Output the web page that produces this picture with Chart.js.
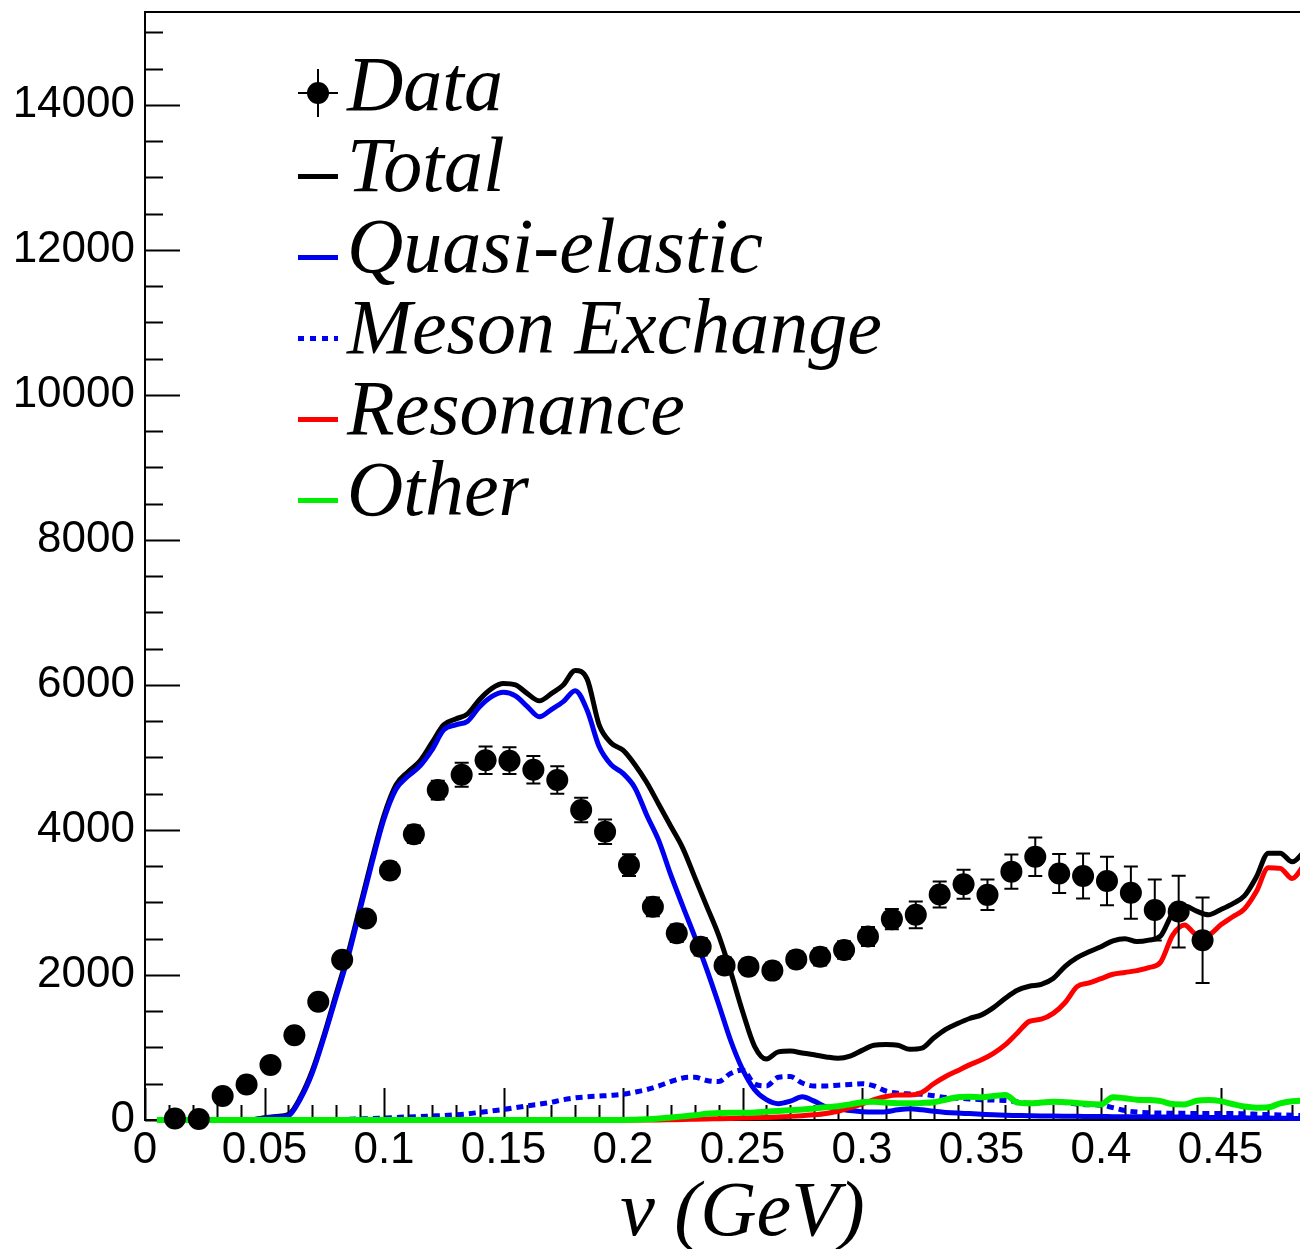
<!DOCTYPE html>
<html><head><meta charset="utf-8">
<script src="https://cdn.jsdelivr.net/npm/chart.js@4.4.1/dist/chart.umd.min.js"></script>
<style>
html,body{margin:0;padding:0;background:#fff;overflow:hidden;width:1300px;height:1249px;}
#wrap{position:relative;width:1300px;height:1249px;overflow:hidden;background:#fff;}
#c{position:absolute;left:0;top:0;width:1400px;height:1300px;}
.legtxt{position:absolute;font-family:"Liberation Serif","Times New Roman",serif;font-style:italic;font-size:78px;line-height:78px;white-space:nowrap;color:#000;}
.sym{position:absolute;}
</style></head>
<body><div id="wrap"><canvas id="c" width="1400" height="1300"></canvas><div id="legend"></div></div>
<script>
// ---- data ----
const dataX = [0.0125,0.0225,0.0325,0.0425,0.0525,0.0625,0.0725,0.0825,0.0925,0.1025,
  0.1125,0.1225,0.1325,0.1425,0.1525,0.1625,0.1725,0.1825,0.1925,0.2025,
  0.2125,0.2225,0.2325,0.2425,0.2525,0.2625,0.2725,0.2825,0.2925,0.3025,
  0.3125,0.3225,0.3325,0.3425,0.3525,0.3625,0.3725,0.3825,0.3925,0.4025,
  0.4125,0.4225,0.4325,0.4425];
const dataY = [20,15,330,490,760,1170,1630,2210,2780,3440,
  3940,4550,4760,4960,4955,4830,4690,4275,3975,3515,
  2940,2575,2390,2130,2115,2060,2215,2250,2345,2530,
  2770,2830,3110,3250,3105,3425,3630,3400,3365,3295,
  3135,2895,2875,2480];
const dataErr = [20,20,40,50,60,70,80,90,100,110,
  120,130,165,190,185,190,190,170,170,150,
  130,120,120,110,110,110,110,120,120,130,
  140,184,180,200,210,235,265,270,310,335,
  360,420,495,590];

const modelX = [0.005,0.01,0.015,0.02,0.025,0.03,0.035,0.04,0.045,0.05,
  0.055,0.06,0.065,0.07,0.075,0.08,0.085,0.09,0.095,0.1,
  0.105,0.11,0.115,0.12,0.125,0.13,0.135,0.14,0.145,0.15,
  0.155,0.16,0.165,0.17,0.175,0.18,0.185,0.19,0.195,0.2,
  0.205,0.21,0.215,0.22,0.225,0.23,0.235,0.24,0.245,0.25,
  0.255,0.26,0.265,0.27,0.275,0.28,0.285,0.29,0.295,0.3,
  0.305,0.31,0.315,0.32,0.325,0.33,0.335,0.34,0.345,0.35,
  0.355,0.36,0.365,0.37,0.375,0.38,0.385,0.39,0.395,0.4,
  0.405,0.41,0.415,0.42,0.425,0.43,0.435,0.44,0.445,0.45,
  0.455,0.46,0.465,0.47,0.475,0.48,0.485];

const totalY = [0,0,0,0,0,0,0,0,5,30,
  50,75,310,680,1180,1740,2300,2950,3600,4200,
  4620,4800,4950,5200,5450,5530,5600,5800,5950,6020,
  6000,5880,5780,5880,6000,6200,6080,5450,5200,5100,
  4900,4650,4350,4050,3750,3350,2950,2550,2050,1500,
  1020,840,940,950,925,900,870,850,880,960,
  1030,1040,1030,975,990,1130,1250,1330,1400,1450,
  1550,1680,1790,1845,1870,1950,2120,2240,2320,2390,
  2470,2500,2460,2480,2540,2850,2950,2880,2830,2900,
  2980,3090,3350,3680,3680,3560,3700];
const quasiElasticY = [0,0,0,0,0,0,0,0,5,25,
  40,60,290,650,1150,1700,2250,2900,3550,4150,
  4560,4740,4880,5100,5380,5450,5500,5700,5840,5900,
  5850,5700,5560,5660,5770,5920,5650,5150,4900,4780,
  4580,4200,3850,3380,2950,2530,2080,1600,1100,700,
  420,280,225,260,320,260,180,160,130,115,
  110,115,140,155,140,120,105,95,88,80,
  72,66,62,58,55,54,52,50,49,48,
  46,45,44,43,42,41,40,38,36,34,
  32,30,28,26,24,22,20];
const mesonExchangeY = [0,0,0,0,0,0,0,0,0,0,
  0,0,0,0,0,5,10,15,20,28,
  35,42,48,55,62,72,85,105,125,145,
  170,195,220,245,280,305,320,330,340,355,
  385,420,470,530,580,590,545,530,640,690,
  500,470,590,600,510,470,470,480,490,500,
  470,400,370,360,355,335,310,300,290,280,
  275,270,250,230,240,250,240,220,210,205,
  170,130,110,100,95,92,92,90,88,90,
  90,85,80,75,70,65,62];
const resonanceY = [0,0,0,0,0,0,0,0,0,0,
  0,0,0,0,0,0,0,0,0,0,
  0,0,0,0,0,0,0,0,0,0,
  0,0,0,0,0,0,0,0,0,0,
  0,0,0,3,6,10,14,18,22,26,
  30,35,42,50,60,72,90,120,170,220,
  280,325,345,345,380,500,600,680,760,830,
  920,1040,1200,1360,1390,1470,1620,1840,1890,1950,
  2010,2035,2060,2100,2180,2550,2690,2560,2560,2690,
  2800,2910,3150,3480,3470,3330,3520];
const otherY = [0,0,0,0,0,0,0,0,0,0,
  0,0,0,0,0,0,0,0,0,0,
  0,0,0,0,0,0,0,0,0,0,
  0,0,0,0,0,0,0,0,0,0,
  5,10,20,35,50,65,85,95,100,100,
  105,115,125,135,145,160,175,190,215,245,
  250,240,232,230,235,245,280,315,320,315,
  330,345,240,230,240,250,245,235,220,215,
  315,300,280,275,260,220,215,265,275,260,
  220,185,170,175,230,260,265];

// axis definitions
const xMin = 0, xMax = 0.5, xMajorStep = 0.05, xMinorStep = 0.01;
const xTickValues = [0,0.05,0.1,0.15,0.2,0.25,0.3,0.35,0.4,0.45,0.5];
const yMin = 0, yMax = 15280, yMajorStep = 2000, yMinorStep = 500;
const yTickValues = [0,2000,4000,6000,8000,10000,12000,14000];
const xTitle = 'ν (GeV)';

const BLUE = '#0000f0', RED = '#ff0000', GREEN = '#00ee00', BLACK = '#000000';

const legendItems = [
  {label: 'Data', kind: 'data', color: BLACK},
  {label: 'Total', kind: 'line', color: BLACK},
  {label: 'Quasi-elastic', kind: 'line', color: BLUE},
  {label: 'Meson Exchange', kind: 'dash', color: BLUE},
  {label: 'Resonance', kind: 'line', color: RED},
  {label: 'Other', kind: 'line', color: GREEN}
];

function pts(xs, ys) { return xs.map((x, i) => ({x: x, y: ys[i]})); }
function fmtX(v) { const r = Math.round(v * 1000) / 1000; return String(r); }

// ---- plugins ----
const rootAxes = {
  id: 'rootAxes',
  beforeDatasetsDraw(chart) {
    const {ctx, chartArea: a, scales: {x, y}} = chart;
    ctx.save();
    ctx.strokeStyle = '#000';
    ctx.lineWidth = 2;
    ctx.strokeRect(a.left, a.top, a.right - a.left, a.bottom - a.top);
    ctx.beginPath();
    const nY = Math.floor((yMax - yMin) / yMinorStep + 1e-9);
    for (let i = 0; i <= nY; i++) {
      const v = yMin + i * yMinorStep;
      const p = Math.round(y.getPixelForValue(v)) + 0.5;
      const len = (Math.abs(v % yMajorStep) < 1e-6) ? 35 : 18;
      ctx.moveTo(a.left, p); ctx.lineTo(a.left + len, p);
    }
    const nX = Math.round((xMax - xMin) / xMinorStep);
    const per = Math.round(xMajorStep / xMinorStep);
    for (let i = 0; i <= nX; i++) {
      const v = xMin + i * xMinorStep;
      const p = Math.round(x.getPixelForValue(v)) + 0.5;
      const len = (i % per === 0) ? 32 : 15;
      ctx.moveTo(p, a.bottom); ctx.lineTo(p, a.bottom - len);
    }
    ctx.stroke();
    ctx.restore();
  }
};

const errorBars = {
  id: 'errorBars',
  afterDatasetsDraw(chart) {
    const {ctx, scales: {x, y}} = chart;
    ctx.save();
    ctx.strokeStyle = '#000';
    ctx.lineWidth = 2;
    ctx.beginPath();
    dataX.forEach((v, i) => {
      const px = x.getPixelForValue(v);
      const y1 = y.getPixelForValue(dataY[i] + dataErr[i]);
      const y2 = y.getPixelForValue(Math.max(0, dataY[i] - dataErr[i]));
      ctx.moveTo(px, y1); ctx.lineTo(px, y2);
      ctx.moveTo(px - 7, y1); ctx.lineTo(px + 7, y1);
      ctx.moveTo(px - 7, y2); ctx.lineTo(px + 7, y2);
    });
    ctx.stroke();
    ctx.restore();
  }
};

function lineDs(label, ys, color, order, width, dash) {
  return {
    type: 'line', label: label, data: pts(modelX, ys),
    borderColor: color, backgroundColor: color, borderWidth: width,
    borderDash: dash || [], pointRadius: 0, fill: false, tension: 0,
    cubicInterpolationMode: 'monotone', order: order, clip: 8
  };
}

new Chart(document.getElementById('c'), {
  type: 'line',
  data: {
    datasets: [
      {type: 'scatter', label: 'Data', data: pts(dataX, dataY), showLine: false,
       pointRadius: 11, pointHoverRadius: 11, pointBackgroundColor: BLACK, pointBorderWidth: 0,
       pointBorderColor: BLACK, order: 0, clip: false},
      lineDs('Other', otherY, GREEN, 1, 6),
      lineDs('Resonance', resonanceY, RED, 2, 5),
      lineDs('Meson Exchange', mesonExchangeY, BLUE, 3, 5, [7, 5]),
      lineDs('Quasi-elastic', quasiElasticY, BLUE, 4, 5),
      lineDs('Total', totalY, BLACK, 5, 5)
    ]
  },
  options: {
    responsive: false, animation: false, devicePixelRatio: 1,
    layout: {padding: {top: 12, right: 60, left: 0, bottom: 0}},
    plugins: {legend: {display: false}, tooltip: {enabled: false}},
    scales: {
      x: {
        type: 'linear', min: xMin, max: xMax,
        grid: {display: false, drawTicks: false}, border: {display: false},
        ticks: {padding: 4, color: '#000', maxRotation: 0, autoSkip: false,
                font: {family: 'Liberation Sans', size: 44},
                callback: v => fmtX(v)},
        afterBuildTicks: s => { s.ticks = xTickValues.map(v => ({value: v})); },
        title: {display: true, text: xTitle, color: '#000',
                font: {family: 'Liberation Serif', style: 'italic', size: 78, lineHeight: 1.2},
                padding: {top: 0, bottom: 39}},
        afterFit: s => { s.height = 180; s.paddingLeft = 0; s.paddingRight = 0; }
      },
      y: {
        type: 'linear', min: yMin, max: yMax,
        grid: {display: false, drawTicks: false}, border: {display: false},
        ticks: {padding: 10, color: '#000', autoSkip: false,
                font: {family: 'Liberation Sans', size: 44}, callback: v => String(v)},
        afterBuildTicks: s => { s.ticks = yTickValues.map(v => ({value: v})); },
        afterFit: s => { s.width = 145; s.paddingTop = 0; s.paddingBottom = 0; }
      }
    }
  },
  plugins: [rootAxes, errorBars]
});

// ---- legend (HTML) ----
const legTop = 110, legStep = 81, symLeft = 298, symW = 40, txtLeft = 347;
const leg = document.getElementById('legend');
legendItems.forEach((it, i) => {
  const base = legTop + i * legStep;
  const t = document.createElement('div');
  t.className = 'legtxt';
  t.style.left = txtLeft + 'px';
  t.style.top = (base - 65) + 'px';
  t.textContent = it.label;
  leg.appendChild(t);
  const cy = base - 15;
  if (it.kind === 'data') {
    const mcy = base - 17;
    const h = document.createElement('div'); h.className = 'sym';
    h.style.cssText += `left:${symLeft}px;top:${mcy - 1}px;width:${symW}px;height:2px;background:#000;`;
    const v = document.createElement('div'); v.className = 'sym';
    v.style.cssText += `left:${symLeft + symW / 2 - 1}px;top:${mcy - 24}px;width:2px;height:48px;background:#000;`;
    const c = document.createElement('div'); c.className = 'sym';
    c.style.cssText += `left:${symLeft + symW / 2 - 11}px;top:${mcy - 11}px;width:22px;height:22px;border-radius:50%;background:#000;`;
    leg.appendChild(h); leg.appendChild(v); leg.appendChild(c);
  } else {
    const s = document.createElement('div'); s.className = 'sym';
    const bg = it.kind === 'dash'
      ? `repeating-linear-gradient(90deg, ${it.color} 0 6px, transparent 6px 12px)`
      : it.color;
    s.style.cssText += `left:${symLeft}px;top:${cy - 2}px;width:${symW}px;height:5px;background:${bg};`;
    leg.appendChild(s);
  }
});
</script>
</body></html>
